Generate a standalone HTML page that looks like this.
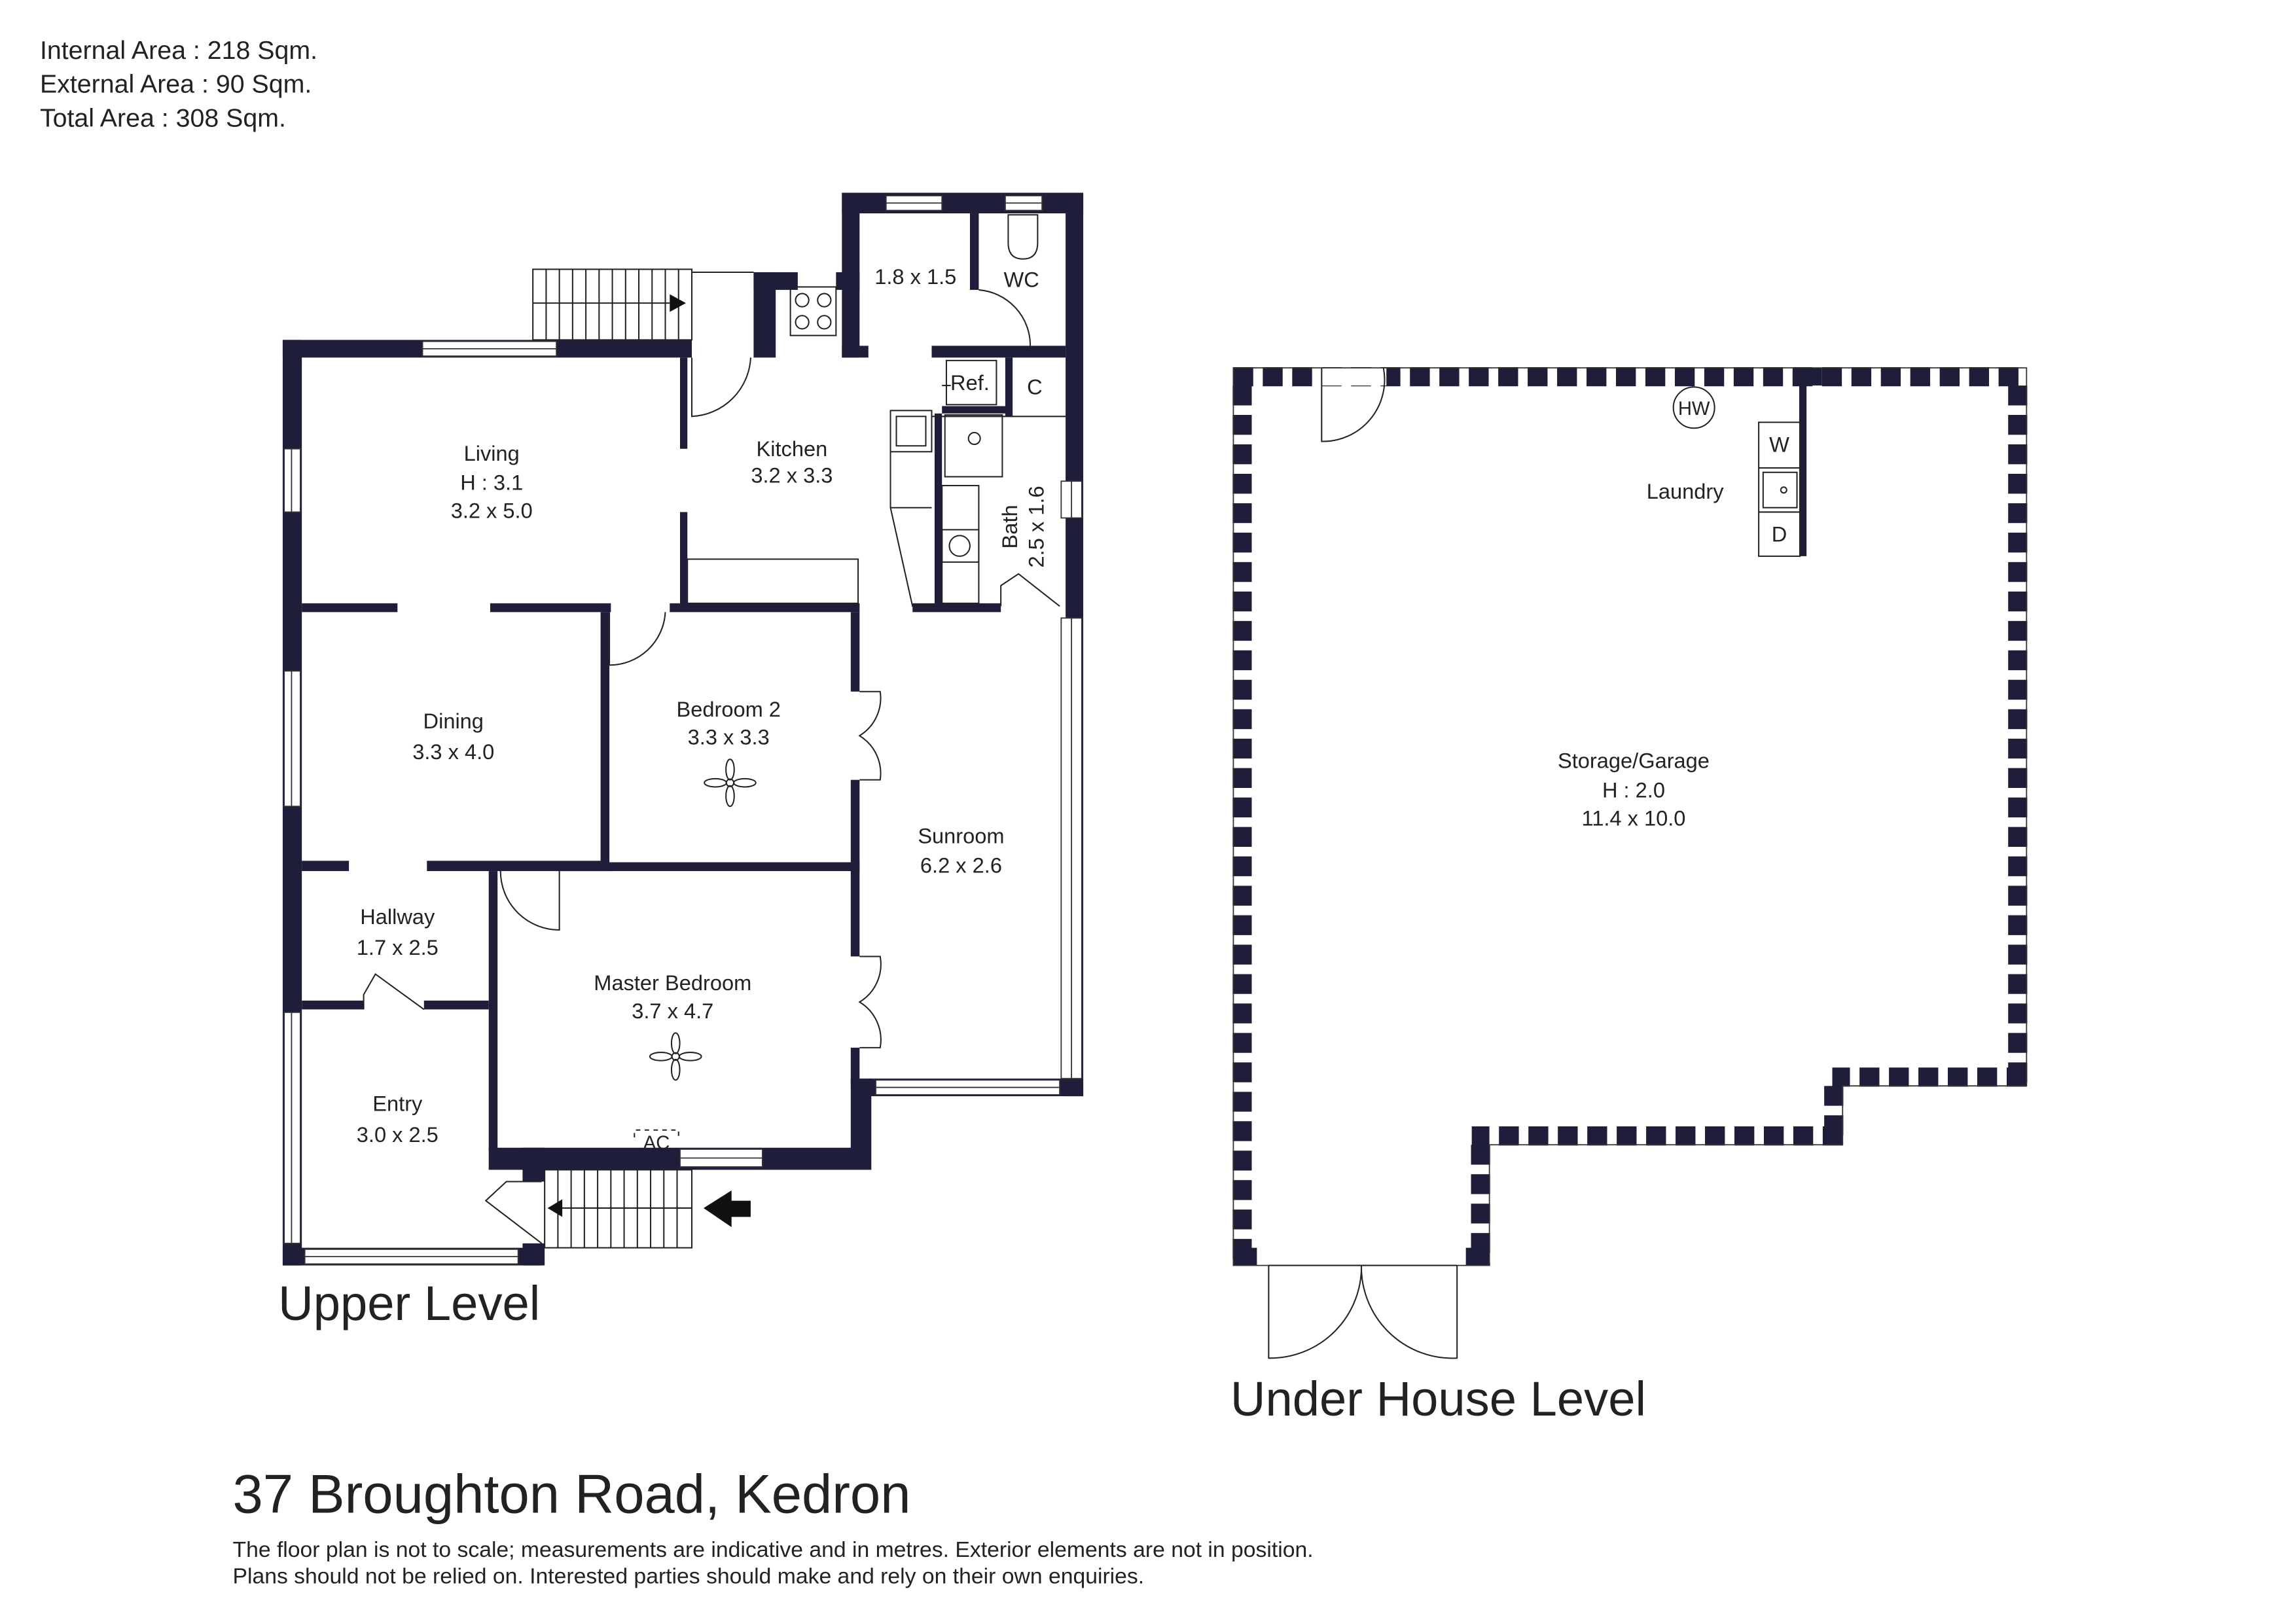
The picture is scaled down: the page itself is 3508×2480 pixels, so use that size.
<!DOCTYPE html>
<html><head><meta charset="utf-8"><style>
html,body{margin:0;padding:0;background:#fff;}
svg{display:block;}
text{font-family:"Liberation Sans","DejaVu Sans",sans-serif;fill:#222;}
</style></head><body>
<svg width="3508" height="2480" viewBox="0 0 1560 1103" xmlns="http://www.w3.org/2000/svg">
<rect width="1560" height="1103" fill="#fff"/>
<g font-size="17.5">
<text x="27" y="40">Internal Area : 218 Sqm.</text>
<text x="27" y="63">External Area : 90 Sqm.</text>
<text x="27" y="86">Total Area : 308 Sqm.</text>
</g>

<!-- UPPER LEVEL -->
<g fill="#1e1e3a">
<!-- outer -->
<rect x="192" y="231" width="13" height="629"/>
<rect x="192" y="231" width="278" height="12"/>
<rect x="512" y="185" width="15" height="58"/>
<rect x="512" y="185" width="30" height="12"/>
<rect x="568" y="185" width="16" height="12"/>
<rect x="572" y="131" width="12" height="112"/>
<rect x="572" y="235" width="18" height="8"/>
<rect x="572" y="131" width="164" height="14"/>
<rect x="724" y="131" width="12" height="614"/>
<rect x="590" y="733" width="146" height="12"/>
<rect x="578" y="733" width="14" height="62"/>
<rect x="332" y="780" width="258" height="15"/>
<rect x="355" y="780" width="15" height="23"/>
<rect x="355" y="845" width="15" height="15"/>
<rect x="192" y="848" width="176" height="12"/>
<!-- interior -->
<rect x="659" y="145" width="6" height="52"/>
<rect x="633" y="235" width="91" height="8"/>
<rect x="683" y="243" width="5" height="40"/>
<rect x="640" y="276" width="44" height="5"/>
<rect x="635" y="281" width="5" height="131"/>
<rect x="620" y="410" width="60" height="6"/>
<rect x="462" y="243" width="5" height="62"/>
<rect x="462" y="348" width="5" height="64"/>
<rect x="205" y="410" width="65" height="6"/>
<rect x="333" y="410" width="82" height="6"/>
<rect x="455" y="410" width="129" height="6"/>
<rect x="408" y="416" width="6" height="172"/>
<rect x="578" y="416" width="6" height="54"/>
<rect x="578" y="530" width="6" height="120"/>
<rect x="578" y="712" width="6" height="25"/>
<rect x="205" y="585" width="32" height="7"/>
<rect x="290" y="585" width="124" height="7"/>
<rect x="380" y="586" width="204" height="6"/>
<rect x="332" y="592" width="6" height="190"/>
<rect x="205" y="680" width="42" height="6"/>
<rect x="288" y="680" width="44" height="6"/>
</g>
<!-- windows -->
<g fill="#fff" stroke="#333" stroke-width="0.8">
<rect x="287" y="232" width="91" height="10"/><line x1="287" y1="237" x2="378" y2="237"/>
<rect x="602" y="133" width="38" height="10"/><line x1="602" y1="138" x2="640" y2="138"/>
<rect x="683" y="133" width="25" height="10"/><line x1="683" y1="138" x2="708" y2="138"/>
<rect x="193" y="305" width="11" height="43"/><line x1="198" y1="305" x2="198" y2="348"/>
<rect x="193" y="456" width="11" height="92"/><line x1="198" y1="456" x2="198" y2="548"/>
<rect x="193" y="688" width="11" height="157"/><line x1="198" y1="688" x2="198" y2="845"/>
<rect x="207" y="849" width="145" height="10"/><line x1="207" y1="854" x2="352" y2="854"/>
<rect x="462" y="781" width="56" height="12"/><line x1="462" y1="787" x2="518" y2="787"/>
<rect x="595" y="734" width="125" height="10"/><line x1="595" y1="739" x2="720" y2="739"/>
<rect x="721" y="420" width="14" height="313"/><line x1="728" y1="420" x2="728" y2="733"/>
<rect x="721" y="327" width="14" height="25"/><line x1="728" y1="327" x2="728" y2="352"/>
</g>
<!-- fixtures, doors -->
<g fill="none" stroke="#222" stroke-width="0.9">
<!-- top stairs -->
<rect x="362" y="183" width="108" height="48"/>
<line x1="470" y1="185" x2="512" y2="185"/>
<line x1="362" y1="206" x2="455" y2="206"/>
<path d="M371 183V231M380 183V231M389 183V231M398 183V231M407 183V231M416 183V231M425 183V231M434 183V231M443 183V231M452 183V231M461 183V231"/>
<!-- stove -->
<rect x="537" y="195" width="31" height="33"/>
<circle cx="545" cy="204" r="4.5"/><circle cx="560" cy="204" r="4.5"/><circle cx="545" cy="219" r="4.5"/><circle cx="560" cy="219" r="4.5"/>
<!-- kitchen door -->
<path d="M470 243V283A42 42 0 0 0 510 243"/>
<!-- WC door, toilet -->
<path d="M665 197A38 38 0 0 1 700 235"/>
<path d="M685 146H705V165Q705 176 695 176Q685 176 685 165Z"/>
<!-- ref -->
<rect x="643" y="245" width="34" height="30"/>
<line x1="640" y1="262" x2="646" y2="262"/>
<!-- sinks -->
<rect x="605" y="279" width="28" height="28"/><rect x="609" y="283" width="20" height="20"/>
<rect x="642" y="282" width="39" height="42"/><circle cx="662" cy="298" r="4"/>
<rect x="640" y="330" width="25" height="80"/>
<rect x="640" y="360" width="25" height="22"/><circle cx="652" cy="371" r="7"/>
<line x1="633" y1="283" x2="724" y2="283"/>
<!-- counter -->
<path d="M605 307V345L620 412H633"/>
<path d="M605 345H633"/>
<!-- bath door -->
<path d="M680 412V398L692 390L720 412"/>
<!-- bench -->
<rect x="467" y="380" width="116" height="30"/>
<!-- bed2 door -->
<path d="M414 416V452A38 38 0 0 0 452 416"/>
<!-- double doors -->
<path d="M584 470H598A30 30 0 0 1 584 500A30 30 0 0 1 598 530H584"/>
<path d="M584 650H598A30 30 0 0 1 584 681A30 30 0 0 1 598 712H584"/>
<!-- master door -->
<path d="M340 592A40 40 0 0 0 380 632V592"/>
<!-- hallway door -->
<path d="M247 686V676L255 662L288 686"/>
<!-- entry door -->
<path d="M368 845L330 816L344 803H368"/>
<!-- bottom stairs -->
<rect x="370" y="795" width="100" height="53"/>
<line x1="380" y1="821" x2="470" y2="821"/>
<path d="M379 795V848M388 795V848M397 795V848M406 795V848M415 795V848M424 795V848M433 795V848M442 795V848M451 795V848M460 795V848"/>
<!-- fans -->
<g>
<circle cx="496" cy="532" r="2.5"/><ellipse cx="496" cy="523" rx="2.8" ry="7"/><ellipse cx="496" cy="541" rx="2.8" ry="7"/><ellipse cx="486" cy="532" rx="7.5" ry="2.8"/><ellipse cx="506" cy="532" rx="7.5" ry="2.8"/>
<circle cx="459" cy="718" r="2.5"/><ellipse cx="459" cy="709" rx="2.8" ry="7"/><ellipse cx="459" cy="727" rx="2.8" ry="7"/><ellipse cx="449" cy="718" rx="7.5" ry="2.8"/><ellipse cx="469" cy="718" rx="7.5" ry="2.8"/>
</g>
<path d="M431 773V768H461V773" stroke-dasharray="3 3"/>
</g>
<g fill="#111">
<path d="M455 200L466 206L455 212Z"/>
<path d="M382 815L372 821L382 827Z"/>
<path d="M478 821L497 809V816H510V827H497V834Z"/>
</g>
<g font-size="14.5" text-anchor="middle">
<text x="334" y="313">Living</text><text x="334" y="333">H : 3.1</text><text x="334" y="352">3.2 x 5.0</text>
<text x="538" y="310">Kitchen</text><text x="538" y="328">3.2 x 3.3</text>
<text x="622" y="193">1.8 x 1.5</text>
<text x="694" y="195">WC</text>
<text x="659" y="265">Ref.</text>
<text x="703" y="268">C</text>
<text transform="translate(691,358) rotate(-90)">Bath</text>
<text transform="translate(709,358) rotate(-90)">2.5 x 1.6</text>
<text x="308" y="495">Dining</text><text x="308" y="516">3.3 x 4.0</text>
<text x="495" y="487">Bedroom 2</text><text x="495" y="506">3.3 x 3.3</text>
<text x="653" y="573">Sunroom</text><text x="653" y="593">6.2 x 2.6</text>
<text x="270" y="628">Hallway</text><text x="270" y="649">1.7 x 2.5</text>
<text x="457" y="673">Master Bedroom</text><text x="457" y="692">3.7 x 4.7</text>
<text x="270" y="755">Entry</text><text x="270" y="776">3.0 x 2.5</text>
<text x="446" y="781" font-size="13">AC</text>
</g>
<text x="189" y="897" font-size="33">Upper Level</text>

<!-- UNDER HOUSE -->
<g fill="none" stroke="#1e1e3a" stroke-width="13" stroke-dasharray="13.5 6.5">
<line x1="838" y1="256" x2="1377" y2="256"/>
<line x1="844" y1="262" x2="844" y2="860"/>
<line x1="1371" y1="262" x2="1371" y2="738"/>
<line x1="1377" y1="732" x2="1245" y2="732"/>
<line x1="1246" y1="738" x2="1246" y2="778"/>
<line x1="1252" y1="772" x2="1000" y2="772"/>
<line x1="1006" y1="778" x2="1006" y2="860"/>
</g>
<g fill="#1e1e3a">
<rect x="838" y="848" width="16" height="12"/>
<rect x="996" y="848" width="16" height="12"/>
<rect x="1220" y="250" width="18" height="12"/>
</g>
<rect x="896" y="250" width="46" height="12" fill="#fff"/>
<g fill="none" stroke="#333" stroke-width="0.8">
<path d="M838 250H1377V738H1252V778H1012V860H838Z"/>
</g>
<g fill="none" stroke="#222" stroke-width="0.9">
<path d="M898 250V300A42 42 0 0 0 940 250"/>
<line x1="1225" y1="262" x2="1225" y2="378" stroke-width="5" stroke="#1e1e3a"/>
<rect x="1195" y="287" width="28" height="91"/>
<line x1="1195" y1="318" x2="1223" y2="318"/><line x1="1195" y1="348" x2="1223" y2="348"/>
<rect x="1198" y="321" width="23" height="24"/><circle cx="1212" cy="333" r="2"/>
<circle cx="1151" cy="277" r="14"/>
<path d="M862 860H990"/>
<path d="M862 860V923A62 62 0 0 0 925 860A62 62 0 0 0 990 923V860"/>
</g>
<g font-size="14.5" text-anchor="middle">
<text x="1151" y="282" font-size="13">HW</text>
<text x="1209" y="307">W</text>
<text x="1209" y="368">D</text>
<text x="1145" y="339">Laundry</text>
<text x="1110" y="522">Storage/Garage</text><text x="1110" y="542">H : 2.0</text><text x="1110" y="561">11.4 x 10.0</text>
</g>
<text x="836" y="962" font-size="33">Under House Level</text>

<text x="158" y="1028" font-size="37">37 Broughton Road, Kedron</text>
<text x="158" y="1058" font-size="15">The floor plan is not to scale; measurements are indicative and in metres. Exterior elements are not in position.</text>
<text x="158" y="1076" font-size="15">Plans should not be relied on. Interested parties should make and rely on their own enquiries.</text>
</svg>
</body></html>
